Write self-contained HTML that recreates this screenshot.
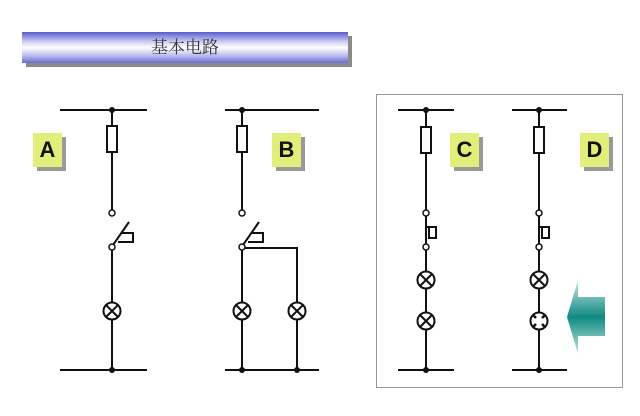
<!DOCTYPE html>
<html><head><meta charset="utf-8"><style>
body{margin:0;background:#fff;width:640px;height:416px;overflow:hidden;position:relative;font-family:"Liberation Sans","Noto Sans CJK SC",sans-serif}
.lab{position:absolute;width:29px;height:34px;background:#e2ee7a;box-shadow:4px 4px 0 #9a9a9a;font:bold 22px "Liberation Sans",sans-serif;color:#111;text-align:center;line-height:34px}
</style></head><body>
<div style="position:absolute;left:26px;top:36px;width:326px;height:31px;background:#8a8a8a"></div>
<div style="position:absolute;left:22px;top:32px;width:326px;height:31px;background:linear-gradient(#5a5acc 0%,#c8c8f4 30%,#ffffff 50%,#c8c8f4 72%,#6a6ad4 100%);text-align:center;font:17px 'Liberation Serif','Noto Serif CJK SC',serif;line-height:31px;color:#333">基本电路</div>
<div style="position:absolute;left:376px;top:94px;width:245px;height:292px;border:1px solid #999"></div>
<div class="lab" style="left:33px;top:133px">A</div>
<div class="lab" style="left:272px;top:133px">B</div>
<div class="lab" style="left:450px;top:133px">C</div>
<div class="lab" style="left:580px;top:133px">D</div>
<svg width="640" height="416" style="position:absolute;left:0;top:0" stroke="#111" stroke-width="2" fill="none">
<defs><linearGradient id="g" x1="0" y1="0" x2="0" y2="1"><stop offset="0" stop-color="#c8e8e4"/><stop offset="0.5" stop-color="#0e8a82"/><stop offset="1" stop-color="#c8e8e4"/></linearGradient>
<g id="lamp"><circle r="8.5" fill="#fff"/><path d="M-6,-6L6,6M6,-6L-6,6"/></g>
<g id="fuse"><rect x="-5" y="0" width="10" height="26" fill="#fff"/></g>
</defs>
<!-- A -->
<path d="M60,110H147M60,370H147M112,110V210M112,250V370"/>
<use href="#fuse" x="112" y="126"/>
<circle cx="112" cy="213" r="3" fill="#fff" stroke-width="1.5"/>
<circle cx="112" cy="247" r="3" fill="#fff" stroke-width="1.5"/>
<path d="M113,245L129,222M121,233H133V242H118"/>
<use href="#lamp" x="112" y="311"/>
<circle cx="112" cy="110" r="3" fill="#111" stroke="none"/><circle cx="112" cy="370" r="3" fill="#111" stroke="none"/>
<!-- B -->
<path d="M225,110H319M225,370H319M242,110V210M242,250V370M245,248H297V370"/>
<use href="#fuse" x="242" y="126"/>
<circle cx="242" cy="213" r="3" fill="#fff" stroke-width="1.5"/>
<circle cx="242" cy="247" r="3" fill="#fff" stroke-width="1.5"/>
<path d="M243,245L259,222M251,233H263V242H248"/>
<use href="#lamp" x="242" y="311"/><use href="#lamp" x="297" y="311"/>
<circle cx="242" cy="110" r="3" fill="#111" stroke="none"/><circle cx="242" cy="370" r="3" fill="#111" stroke="none"/><circle cx="297" cy="370" r="3" fill="#111" stroke="none"/>
<!-- C -->
<path d="M398,110H454M398,370H454M426,110V370"/>
<use href="#fuse" x="426" y="127"/>
<circle cx="426" cy="213" r="3" fill="#fff" stroke-width="1.5"/>
<circle cx="426" cy="247" r="3" fill="#fff" stroke-width="1.5"/>
<path d="M426,227H436V238H429V227"/>
<use href="#lamp" x="426" y="280"/><use href="#lamp" x="426" y="321"/>
<circle cx="426" cy="110" r="3" fill="#111" stroke="none"/><circle cx="426" cy="370" r="3" fill="#111" stroke="none"/>
<!-- D -->
<path d="M512,110H567M512,370H567M539,110V370"/>
<use href="#fuse" x="539" y="127"/>
<circle cx="539" cy="213" r="3" fill="#fff" stroke-width="1.5"/>
<circle cx="539" cy="247" r="3" fill="#fff" stroke-width="1.5"/>
<path d="M539,227H549V238H542V227"/>
<use href="#lamp" x="539" y="280"/>
<circle cx="539" cy="321" r="8.5" fill="#fff"/>
<path d="M533,315L536,318M545,315L542,318M533,327L536,324M545,327L542,324" stroke-width="2.5"/>
<circle cx="539" cy="110" r="3" fill="#111" stroke="none"/><circle cx="539" cy="370" r="3" fill="#111" stroke="none"/>
<path d="M567,317L578,280V297H605V336H578V354Z" fill="url(#g)" stroke="none"/>
</svg>
</body></html>
